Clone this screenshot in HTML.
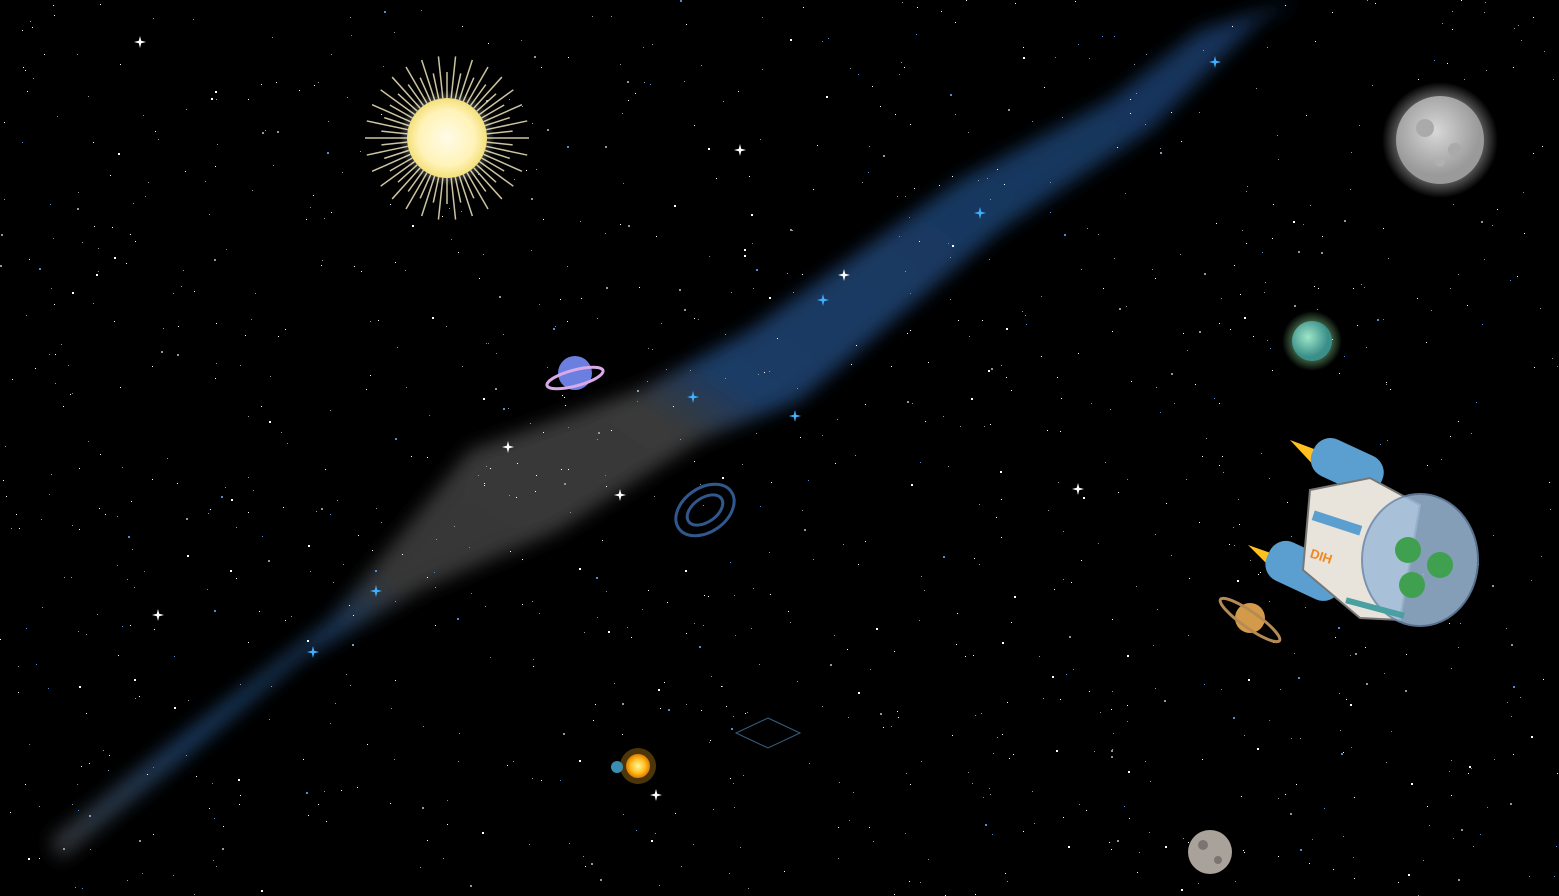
<!DOCTYPE html>
<html><head><meta charset="utf-8"><style>
html,body{margin:0;padding:0;background:#000;overflow:hidden}
svg{display:block}
</style></head><body>
<svg width="1559" height="896" viewBox="0 0 1559 896">
<defs>
<filter id="blur8"><feGaussianBlur stdDeviation="9"/></filter>
<radialGradient id="sunG"><stop offset="0" stop-color="#fffbe8"/><stop offset="0.7" stop-color="#fff3b8"/><stop offset="1" stop-color="#f4e07a"/></radialGradient>
<radialGradient id="moonG" cx="0.45" cy="0.4"><stop offset="0" stop-color="#d8d8d8"/><stop offset="1" stop-color="#9a9a9a"/></radialGradient>
<radialGradient id="glow"><stop offset="0.55" stop-color="#fff" stop-opacity="0.6"/><stop offset="1" stop-color="#fff" stop-opacity="0"/></radialGradient>
<radialGradient id="greenGlow"><stop offset="0.4" stop-color="#8fe09a" stop-opacity="0.7"/><stop offset="1" stop-color="#8fe09a" stop-opacity="0"/></radialGradient>
<radialGradient id="earthG" cx="0.4" cy="0.4"><stop offset="0" stop-color="#9fe6c8"/><stop offset="1" stop-color="#3a8f8a"/></radialGradient>
<radialGradient id="smallSun"><stop offset="0" stop-color="#fff6a0"/><stop offset="0.6" stop-color="#ffbe20"/><stop offset="1" stop-color="#e07a00"/></radialGradient>
<linearGradient id="band" x1="0" y1="1" x2="1" y2="0">
<stop offset="0" stop-color="#444" /><stop offset="0.12" stop-color="#224a78"/><stop offset="0.25" stop-color="#22446e"/><stop offset="0.3" stop-color="#444"/><stop offset="0.5" stop-color="#484848"/><stop offset="0.55" stop-color="#234b7e"/><stop offset="1" stop-color="#1a4070"/>
</linearGradient>
</defs>
<rect width="1559" height="896" fill="#000"/>
<g opacity="0.8" filter="url(#blur8)">
<polygon points="50,840 150,760 330,620 470,450 640,390 750,330 960,180 1110,100 1200,30 1300,0 1260,20 1150,130 1000,230 800,400 700,440 560,530 420,590 300,660 170,770 60,860" fill="url(#band)"/>
</g>
<g id="stars"></g>
<g>
<g id="rays" stroke="#fff6c8" stroke-width="1.5" opacity="0.8"></g>
<circle cx="447" cy="138" r="48" fill="url(#glow)"/>
<circle cx="447" cy="138" r="40" fill="url(#sunG)"/>
</g>
<g>
<circle cx="1440" cy="140" r="58" fill="url(#glow)"/>
<circle cx="1440" cy="140" r="44" fill="url(#moonG)"/>
<circle cx="1425" cy="128" r="9" fill="#aaa"/><circle cx="1455" cy="150" r="7" fill="#aaa"/><circle cx="1440" cy="162" r="5" fill="#b0b0b0"/>
</g>
<g>
<circle cx="1312" cy="341" r="30" fill="url(#greenGlow)"/>
<circle cx="1312" cy="341" r="20" fill="url(#earthG)"/>
</g>
<g>
<circle cx="575" cy="373" r="17" fill="#6a7fe0"/>
<ellipse cx="575" cy="378" rx="29" ry="8" fill="none" stroke="#d9a9e8" stroke-width="3" transform="rotate(-15 575 378)"/>
</g>
<g fill="none" stroke="#3d6fb0" stroke-width="3" opacity="0.8">
<ellipse cx="705" cy="510" rx="32" ry="22" transform="rotate(-35 705 510)"/>
<ellipse cx="705" cy="510" rx="20" ry="12" transform="rotate(-35 705 510)"/>
</g>
<g>
<circle cx="638" cy="766" r="18" fill="#ffb020" opacity="0.3"/>
<circle cx="638" cy="766" r="12" fill="url(#smallSun)"/>
<circle cx="617" cy="767" r="6" fill="#3a8fb0"/>
</g>
<polygon points="768,718 800,733 768,748 736,733" fill="none" stroke="#3a5f80" stroke-width="1"/>
<g>
<circle cx="1250" cy="618" r="15" fill="#d39a4a"/>
<ellipse cx="1250" cy="620" rx="36" ry="8" fill="none" stroke="#b78a55" stroke-width="3" transform="rotate(35 1250 620)"/>
</g>
<g>
<circle cx="1210" cy="852" r="22" fill="#a8a29a"/>
<circle cx="1203" cy="845" r="5" fill="#7a7570"/><circle cx="1218" cy="860" r="4" fill="#7a7570"/>
</g>
<g>
<polygon points="1290,440 1330,455 1318,470" fill="#ffc020"/>
<polygon points="1248,545 1285,558 1275,572" fill="#ffc020"/>
<rect x="1310" y="445" width="75" height="40" rx="18" fill="#5a9fd0" transform="rotate(25 1345 465)"/>
<rect x="1265" y="550" width="80" height="42" rx="18" fill="#5a9fd0" transform="rotate(25 1305 570)"/>
<polygon points="1310,490 1370,478 1420,505 1400,620 1360,618 1303,570" fill="#e8e4dc" stroke="#777" stroke-width="2"/>
<rect x="1312" y="518" width="50" height="10" fill="#5a9fd0" transform="rotate(18 1337 523)"/>
<text x="1310" y="562" font-family="Liberation Sans, sans-serif" font-size="13" font-weight="bold" fill="#f08a20" transform="rotate(18 1325 557)">DIH</text>
<ellipse cx="1420" cy="560" rx="58" ry="66" fill="#9dbad8" opacity="0.85" stroke="#6b86a8" stroke-width="2"/>
<circle cx="1408" cy="550" r="13" fill="#3fa050"/><circle cx="1440" cy="565" r="13" fill="#3fa050"/><circle cx="1412" cy="585" r="13" fill="#3fa050"/>
<rect x="1345" y="605" width="60" height="6" fill="#4aa0a0" transform="rotate(15 1375 608)"/>
</g>
<g id="sparkles" fill="#fff"></g>
</svg>
<script>
var sparkX=[140,740,844,508,620,1078,158,656,1215,980,823,693,795,376,313];
var sparkY=[42,150,275,447,495,489,615,795,62,213,300,397,416,591,652];
var sparkBlue=[0,0,0,0,0,0,0,0,1,1,1,1,1,1,1];
var sg=document.getElementById('sparkles');
for(var i=0;i<sparkX.length;i++){
  var p=document.createElementNS('http://www.w3.org/2000/svg','path');
  var x=sparkX[i],y=sparkY[i],s=6;
  p.setAttribute('d','M'+x+' '+(y-s)+'L'+(x+1.2)+' '+(y-1.2)+'L'+(x+s)+' '+y+'L'+(x+1.2)+' '+(y+1.2)+'L'+x+' '+(y+s)+'L'+(x-1.2)+' '+(y+1.2)+'L'+(x-s)+' '+y+'L'+(x-1.2)+' '+(y-1.2)+'Z');
  p.setAttribute('fill',sparkBlue[i]?'#3fb0ff':'#fff');
  
  
  sg.appendChild(p);
}
var rg=document.getElementById('rays');
for(var a=0;a<360;a+=6){
  var r=a*Math.PI/180,L=(a%12==0)?82:66;
  var l=document.createElementNS('http://www.w3.org/2000/svg','line');
  l.setAttribute('x1',447+40*Math.cos(r));l.setAttribute('y1',138+40*Math.sin(r));
  l.setAttribute('x2',447+L*Math.cos(r));l.setAttribute('y2',138+L*Math.sin(r));
  
  
  rg.appendChild(l);
}
var seed=12345;function rnd(){seed=(seed*16807)%2147483647;return seed/2147483647;}
var st=document.getElementById('stars');
for(var k=0;k<1100;k++){
  var c=document.createElementNS('http://www.w3.org/2000/svg','rect');
  var sz=rnd()<0.15?2:1;
  c.setAttribute('x',Math.floor(rnd()*1559));c.setAttribute('y',Math.floor(rnd()*896));
  c.setAttribute('width',sz);c.setAttribute('height',sz);
  var t=rnd();c.setAttribute('fill',t<0.2?'#4a8fd8':(t<0.6?'#ffffff':'#8899aa'));
  
  
  st.appendChild(c);
}
</script>
</body></html>
